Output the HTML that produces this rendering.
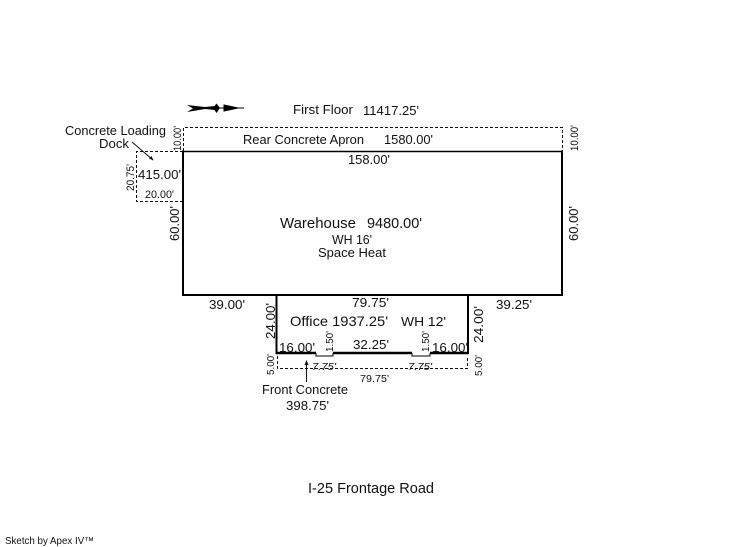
<!DOCTYPE html>
<html>
<head>
<meta charset="utf-8">
<style>
html,body{margin:0;padding:0;background:#fff}
svg{display:block}
text{font-family:"Liberation Sans",sans-serif;font-size:13px;fill:#111}
</style>
</head>
<body>
<svg width="746" height="547" viewBox="0 0 746 547" xmlns="http://www.w3.org/2000/svg">
<!-- dashed areas -->
<g fill="none" stroke="#111" stroke-width="1" stroke-dasharray="3 2">
<path d="M183.500 151V127.500H562.500V151"/>
<path d="M183 151.500H136.500V201.500H183"/>
<path d="M277.500 356V368.500H467.500V356"/>
</g>
<!-- walls -->
<g fill="none" stroke="#000">
<path d="M183 151.500H562" stroke-width="1.500"/>
<path d="M183 150.500V296M562 150.500V296M182 295H563" stroke-width="2"/>
<path d="M276.500 295V354M468 295V354" stroke-width="2"/>
<path d="M276 353H316M333 353H412M430 353H469" stroke-width="2.500"/>
<path d="M316 353V356H333V353M412 353V356H430V353" stroke-width="1"/>
</g>
<!-- leaders -->
<g fill="none" stroke="#111" stroke-width="1">
<path d="M132 142L153 160"/>
<path d="M306.500 363V382"/>
</g>
<path d="M153.500 160.500L149 158.500L151.500 156Z" fill="#111"/>
<path d="M306.500 360L304.500 365H308.500Z" fill="#111"/>
<!-- north arrow -->
<path d="M187 105L205 107L215 106V110L205 109L187 112L193 108.500Z" fill="#000"/>
<path d="M216 108H244" stroke="#000" stroke-width="1"/>
<path d="M213 108L216.500 103.500L220 108L216.500 113Z" fill="#000"/>
<path d="M224 105L238 108L224 111Z" fill="#000" stroke="#000" stroke-width="1"/>
<!-- text -->
<text x="293" y="114" textLength="60" lengthAdjust="spacingAndGlyphs">First Floor</text>
<text x="363" y="115" textLength="56" lengthAdjust="spacingAndGlyphs">11417.25'</text>
<text x="65" y="135" textLength="101" lengthAdjust="spacingAndGlyphs">Concrete Loading</text>
<text x="99" y="148" textLength="30" lengthAdjust="spacingAndGlyphs">Dock</text>
<text x="243" y="144" textLength="121" lengthAdjust="spacingAndGlyphs">Rear Concrete Apron</text>
<text x="384" y="144" textLength="49" lengthAdjust="spacingAndGlyphs">1580.00'</text>
<text x="348" y="164" textLength="42" lengthAdjust="spacingAndGlyphs">158.00'</text>
<text x="138" y="179" textLength="43" lengthAdjust="spacingAndGlyphs">415.00'</text>
<text x="145" y="198" textLength="29" lengthAdjust="spacingAndGlyphs" style="font-size:11px">20.00'</text>
<text x="280" y="228" textLength="76" lengthAdjust="spacingAndGlyphs" style="font-size:15px">Warehouse</text>
<text x="367" y="228" textLength="55" lengthAdjust="spacingAndGlyphs" style="font-size:15px">9480.00'</text>
<text x="332" y="244" textLength="40" lengthAdjust="spacingAndGlyphs">WH 16'</text>
<text x="318" y="257" textLength="68" lengthAdjust="spacingAndGlyphs">Space Heat</text>
<text x="209" y="309" textLength="36" lengthAdjust="spacingAndGlyphs">39.00'</text>
<text x="352" y="307" textLength="37" lengthAdjust="spacingAndGlyphs">79.75'</text>
<text x="496" y="309" textLength="36" lengthAdjust="spacingAndGlyphs">39.25'</text>
<text x="290" y="326" textLength="98" lengthAdjust="spacingAndGlyphs" style="font-size:14px">Office 1937.25'</text>
<text x="401" y="326" textLength="45" lengthAdjust="spacingAndGlyphs">WH 12'</text>
<text x="279" y="352" textLength="36" lengthAdjust="spacingAndGlyphs">16.00'</text>
<text x="353" y="349" textLength="36" lengthAdjust="spacingAndGlyphs">32.25'</text>
<text x="432" y="352" textLength="36" lengthAdjust="spacingAndGlyphs">16.00'</text>
<text x="312" y="370" textLength="24" lengthAdjust="spacingAndGlyphs" style="font-size:10px;font-style:italic">7.75'</text>
<text x="408" y="370" textLength="24" lengthAdjust="spacingAndGlyphs" style="font-size:10px;font-style:italic">7.75'</text>
<text x="360" y="382" textLength="29" lengthAdjust="spacingAndGlyphs" style="font-size:10px">79.75'</text>
<text x="262" y="394" textLength="86" lengthAdjust="spacingAndGlyphs">Front Concrete</text>
<text x="286" y="410" textLength="43" lengthAdjust="spacingAndGlyphs">398.75'</text>
<text x="308" y="493" textLength="126" lengthAdjust="spacingAndGlyphs" style="font-size:15px">I-25 Frontage Road</text>
<text x="5" y="544" textLength="89" lengthAdjust="spacingAndGlyphs" style="font-size:10px">Sketch by Apex IV™</text>
<!-- rotated text -->
<text transform="translate(181,151) rotate(-90)" textLength="25" lengthAdjust="spacingAndGlyphs" style="font-size:11px">10.00'</text>
<text transform="translate(578,151) rotate(-90)" textLength="26" lengthAdjust="spacingAndGlyphs" style="font-size:11px">10.00'</text>
<text transform="translate(134,191) rotate(-90)" textLength="27" lengthAdjust="spacingAndGlyphs" style="font-size:11px">20.75'</text>
<text transform="translate(179,241) rotate(-90)" textLength="35" lengthAdjust="spacingAndGlyphs">60.00'</text>
<text transform="translate(578,241) rotate(-90)" textLength="35" lengthAdjust="spacingAndGlyphs">60.00'</text>
<text transform="translate(275,339) rotate(-90)" textLength="36" lengthAdjust="spacingAndGlyphs">24.00'</text>
<text transform="translate(483,343) rotate(-90)" textLength="37" lengthAdjust="spacingAndGlyphs">24.00'</text>
<text transform="translate(333,352) rotate(-90)" textLength="21" lengthAdjust="spacingAndGlyphs" style="font-size:10px">1.50'</text>
<text transform="translate(429,352) rotate(-90)" textLength="21" lengthAdjust="spacingAndGlyphs" style="font-size:10px">1.50'</text>
<text transform="translate(274,375) rotate(-90)" textLength="21" lengthAdjust="spacingAndGlyphs" style="font-size:10px">5.00'</text>
<text transform="translate(482,376) rotate(-90)" textLength="21" lengthAdjust="spacingAndGlyphs" style="font-size:10px">5.00'</text>
</svg>
</body>
</html>
